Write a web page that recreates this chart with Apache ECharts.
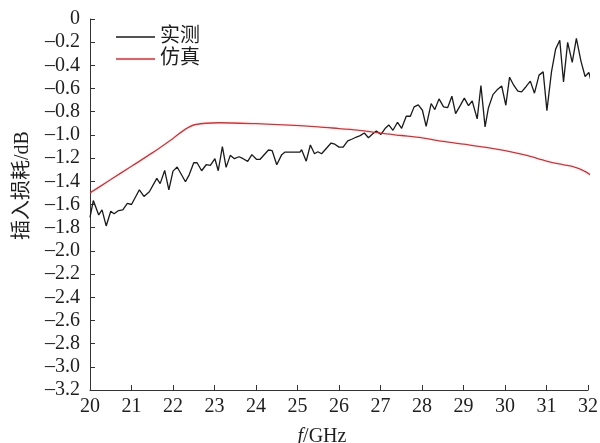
<!DOCTYPE html>
<html>
<head>
<meta charset="utf-8">
<script src="https://cdn.jsdelivr.net/npm/echarts@6/dist/echarts.min.js"></script>
<style>
  html, body { margin: 0; padding: 0; background: #fff; }
  #chart { width: 600px; height: 443px; }
</style>
</head>
<body>
<div id="chart"></div>
<script>
// Measured insertion loss (frequency in GHz, loss in dB)
const measuredFreq = [
  20.0, 20.08, 20.21, 20.29, 20.39, 20.5, 20.58, 20.69, 20.79, 20.9,
  21.0, 21.19, 21.3, 21.43, 21.61, 21.69, 21.8, 21.9, 22.0, 22.1,
  22.3, 22.39, 22.5, 22.58, 22.69, 22.8, 22.9, 23.01, 23.09, 23.19,
  23.28, 23.38, 23.48, 23.59, 23.69, 23.8, 23.9, 24.01, 24.1, 24.3,
  24.39, 24.5, 24.62, 24.7, 24.86, 25.06, 25.1, 25.21, 25.31, 25.41,
  25.49, 25.58, 25.81, 25.9, 26.0, 26.1, 26.21, 26.32, 26.42, 26.51,
  26.61, 26.71, 26.8, 26.9, 27.01, 27.11, 27.2, 27.3, 27.41, 27.51,
  27.62, 27.72, 27.81, 27.91, 28.01, 28.1, 28.22, 28.31, 28.41, 28.52,
  28.62, 28.72, 28.81, 28.92, 29.02, 29.12, 29.21, 29.33, 29.42, 29.52,
  29.6, 29.71, 29.81, 29.92, 30.02, 30.11, 30.21, 30.31, 30.4, 30.51,
  30.61, 30.71, 30.82, 30.92, 31.01, 31.12, 31.22, 31.32, 31.41, 31.51,
  31.62, 31.72, 31.83, 31.93, 32.02, 32.1
];
const measuredLoss = [
  -1.71, -1.566, -1.69, -1.646, -1.785, -1.658, -1.68, -1.652, -1.646, -1.59,
  -1.60, -1.473, -1.53, -1.49, -1.375, -1.42, -1.306, -1.473, -1.312, -1.277,
  -1.404, -1.344, -1.24, -1.24, -1.309, -1.257, -1.263, -1.205, -1.309, -1.10,
  -1.28, -1.176, -1.205, -1.188, -1.205, -1.228, -1.17, -1.21, -1.21, -1.13,
  -1.136, -1.257, -1.17, -1.148, -1.148, -1.148, -1.127, -1.226, -1.087, -1.162,
  -1.145, -1.162, -1.07, -1.08, -1.105, -1.105, -1.052, -1.035, -1.018, -1.006,
  -0.983, -1.024, -0.995, -0.966, -0.995, -0.945, -0.914, -0.96, -0.891, -0.943,
  -0.839, -0.839, -0.758, -0.741, -0.787, -0.926, -0.729, -0.781, -0.689, -0.758,
  -0.764, -0.666, -0.816, -0.747, -0.683, -0.747, -0.707, -0.862, -0.574, -0.93,
  -0.767, -0.652, -0.611, -0.577, -0.744, -0.502, -0.571, -0.623, -0.629, -0.582,
  -0.536, -0.64, -0.484, -0.456, -0.79, -0.456, -0.26, -0.184, -0.542, -0.202,
  -0.375, -0.167, -0.363, -0.496, -0.461, -0.571
];

// Simulated insertion loss
const simFreq = [
  20.0, 20.5, 21.0, 21.5, 22.0, 22.3, 22.55, 23.1, 24.0, 24.8,
  25.5, 26.0, 26.5, 27.0, 27.5, 28.0, 28.5, 29.0, 29.5, 30.0,
  30.5, 31.0, 31.3, 31.6, 31.9, 32.1
];
const simLoss = [
  -1.50, -1.385, -1.27, -1.155, -1.03, -0.95, -0.91, -0.895, -0.903, -0.915,
  -0.93, -0.945, -0.96, -0.985, -1.005, -1.025, -1.055, -1.08, -1.105, -1.135,
  -1.175, -1.225, -1.25, -1.27, -1.31, -1.355
];

const seriesNames = ['实测', '仿真'];
const xTicks = { min: 20, max: 32, step: 1 };
const yTicks = { min: -3.2, max: 0, step: 0.2 };

const zip = (xs, ys) => xs.map((x, i) => [x, ys[i]]);

const FONT = "'Liberation Serif', 'Noto Sans CJK SC', serif";
const TEXT_COLOR = '#1e1e1e';
const AXIS_COLOR = '#333';
const FS = 20;

const chart = echarts.init(document.getElementById('chart'), null, { renderer: 'canvas' });

chart.setOption({
  animation: false,
  backgroundColor: '#fff',
  grid: {
    left: 90, right: 12, top: 19, bottom: 53,
    containLabel: false,
    outerBoundsMode: 'none'
  },
  legend: {
    orient: 'vertical',
    left: 116,
    top: 27,
    padding: 0,
    itemWidth: 39,
    itemHeight: 1.6,
    itemGap: 2,
    icon: 'rect',
    textStyle: { fontFamily: FONT, fontSize: FS, color: TEXT_COLOR },
    data: seriesNames
  },
  xAxis: {
    type: 'value',
    min: xTicks.min,
    max: xTicks.max,
    interval: xTicks.step,
    name: '{i|f}/GHz',
    nameLocation: 'middle',
    nameGap: 37,
    nameTextStyle: {
      fontFamily: FONT, fontSize: FS, color: TEXT_COLOR,
      padding: [0, 34, 0, 0],
      rich: { i: { fontStyle: 'italic', fontFamily: FONT, fontSize: FS, color: TEXT_COLOR } }
    },
    axisLine: { show: true, onZero: false, lineStyle: { color: AXIS_COLOR, width: 1 } },
    axisTick: { show: true, inside: true, length: 5, lineStyle: { color: AXIS_COLOR } },
    axisLabel: { fontFamily: FONT, fontSize: FS, color: TEXT_COLOR, margin: 7 },
    splitLine: { show: false }
  },
  yAxis: {
    type: 'value',
    min: yTicks.min,
    max: yTicks.max,
    interval: yTicks.step,
    name: '插入损耗/dB',
    nameLocation: 'middle',
    nameGap: 57,
    nameRotate: 90,
    nameTextStyle: { fontFamily: FONT, fontSize: FS, color: TEXT_COLOR, padding: [0, 0, 0, 38] },
    axisLine: { show: true, onZero: false, lineStyle: { color: AXIS_COLOR, width: 1 } },
    axisTick: { show: true, inside: true, length: 5, lineStyle: { color: AXIS_COLOR } },
    axisLabel: {
      fontFamily: FONT, fontSize: FS, color: TEXT_COLOR, margin: 10,
      formatter: v => (Math.abs(v) < 1e-9 ? '0' : v.toFixed(1).replace('-', '\u2013'))
    },
    splitLine: { show: false }
  },
  series: [
    {
      name: seriesNames[0],
      type: 'line',
      data: zip(measuredFreq, measuredLoss),
      showSymbol: false,
      clip: false,
      lineStyle: { color: '#1a1a1a', width: 1.3 },
      itemStyle: { color: '#1a1a1a' }
    },
    {
      name: seriesNames[1],
      type: 'line',
      data: zip(simFreq, simLoss),
      smooth: 0.3,
      showSymbol: false,
      clip: false,
      lineStyle: { color: '#e8262c', width: 1.3 },
      itemStyle: { color: '#e8262c' }
    }
  ]
});
</script>
</body>
</html>
